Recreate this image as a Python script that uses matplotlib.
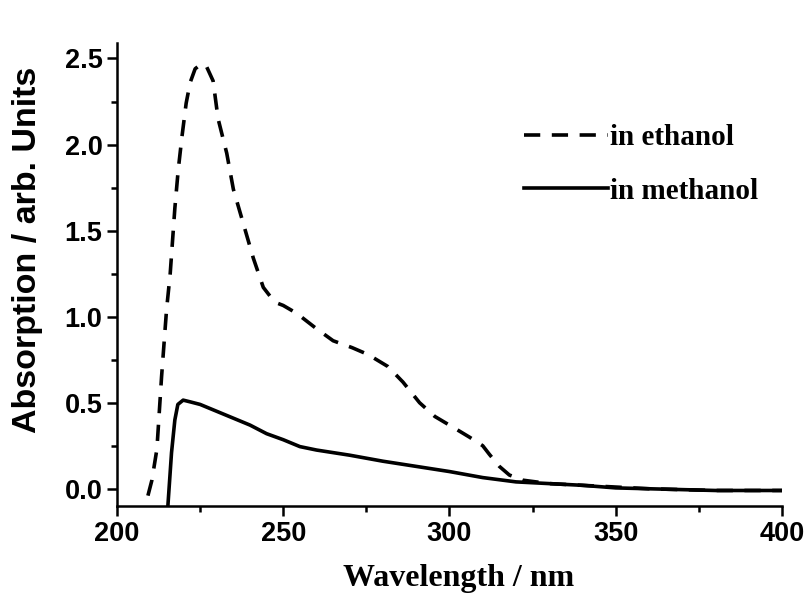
import numpy as np
import matplotlib
matplotlib.use("Agg")
import matplotlib.pyplot as plt
from matplotlib.ticker import MultipleLocator

# absorption spectra
wl_eth = [209.3, 210.5, 212, 213.4, 214.9, 216, 216.7, 217.4, 218.4, 219.5, 220.8, 222,
          223.5, 225.5, 227, 228.9, 230.4, 233, 235, 238, 241, 244, 246, 248, 250, 254,
          260, 265, 270.7, 275.5, 281.5, 286, 291, 295.6, 301.7, 306, 310, 312, 315, 318,
          322, 330, 340, 350, 360, 380, 400]
ab_eth = [-0.04, 0.05, 0.23, 0.65, 1.04, 1.25, 1.44, 1.63, 1.85, 2.04, 2.24, 2.36,
          2.44, 2.47, 2.45, 2.37, 2.15, 1.95, 1.74, 1.54, 1.34, 1.17, 1.12, 1.08, 1.065, 1.02,
          0.93, 0.86, 0.82, 0.78, 0.71, 0.62, 0.50, 0.42, 0.35, 0.30, 0.25, 0.20, 0.13, 0.08,
          0.05, 0.03, 0.02, 0.01, 0.0, -0.01, -0.01]

wl_met = [215.3, 216.4, 217.4, 218.3, 219.9, 222, 225, 230, 235, 240, 245, 250, 255, 260,
          270, 280, 290, 300, 310, 320, 330, 340, 350, 360, 380, 400]
ab_met = [-0.1, 0.21, 0.40, 0.49, 0.515, 0.505, 0.49, 0.45, 0.41, 0.37, 0.32, 0.285, 0.245,
          0.225, 0.195, 0.16, 0.13, 0.10, 0.065, 0.04, 0.03, 0.02, 0.005, 0.0, -0.01, -0.01]

labels = ["in ethanol", "in methanol"]

fig = plt.figure(figsize=(8.08, 6.03), dpi=100)
ax = fig.add_axes([0.1448, 0.1609, 0.823, 0.7678])

ax.plot(wl_eth, ab_eth, color="black", lw=2.6, dashes=(4.5, 3.2), label=labels[0])
ax.plot(wl_met, ab_met, color="black", lw=2.6, label=labels[1])

ax.set_xlim(200, 400)
ax.set_ylim(-0.1, 2.59)

for s in ["top", "right"]:
    ax.spines[s].set_visible(False)
for s in ["left", "bottom"]:
    ax.spines[s].set_linewidth(1.8)

ax.xaxis.set_major_locator(MultipleLocator(50))
ax.xaxis.set_minor_locator(MultipleLocator(25))
ax.yaxis.set_major_locator(MultipleLocator(0.5))
ax.yaxis.set_minor_locator(MultipleLocator(0.25))
ax.tick_params(which="major", direction="out", length=7, width=1.8, labelsize=19.5)
ax.tick_params(which="minor", direction="out", length=4.5, width=1.8)
for t in ax.get_xticklabels() + ax.get_yticklabels():
    t.set_fontfamily("Liberation Sans")
    t.set_fontweight("bold")

ax.set_xlabel("Wavelength / nm", fontsize=23, fontfamily="Liberation Serif",
              fontweight="bold")
ax.xaxis.set_label_coords(0.513, -0.125)
ax.set_ylabel("Absorption / arb. Units", fontsize=24.5, fontfamily="Liberation Sans",
              fontweight="bold")
ax.yaxis.set_label_coords(-0.112, 0.553)

leg = ax.legend(loc="upper left", bbox_to_anchor=(0.572, 0.881), frameon=False,
                handlelength=2.9, handletextpad=0.05, labelspacing=0.9,
                prop={"family": "Liberation Serif", "weight": "bold", "size": 21})

fig.savefig("out.png", dpi=100)
